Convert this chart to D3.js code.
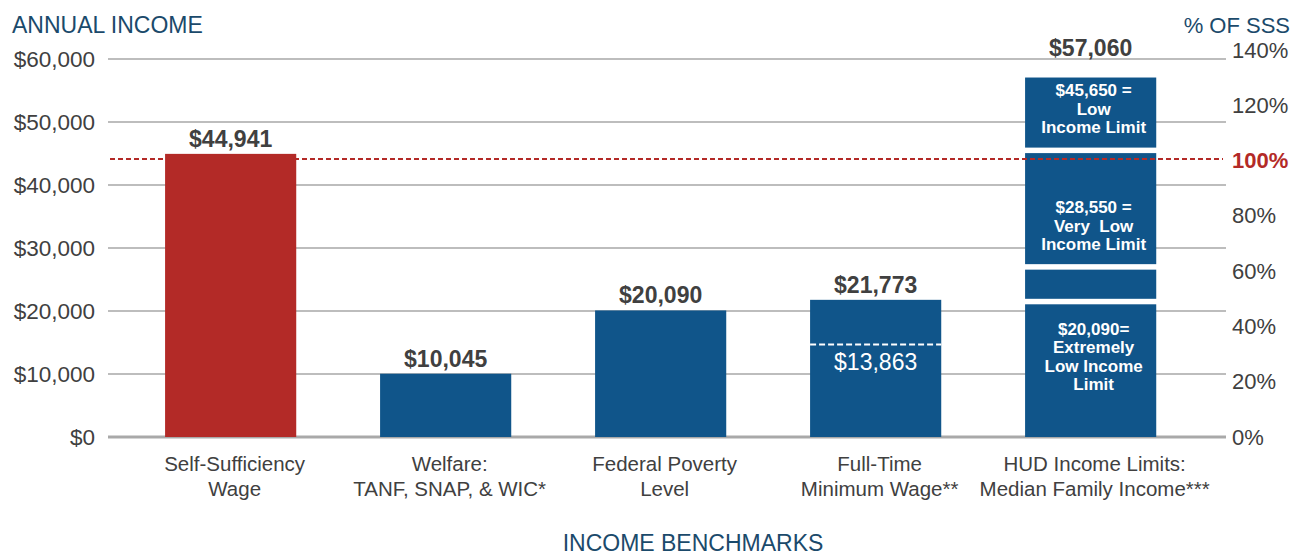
<!DOCTYPE html>
<html>
<head>
<meta charset="utf-8">
<script src="https://cdn.jsdelivr.net/npm/d3@7"></script>
<style>
  body { margin: 0; background: #fff; }
  svg { display: block; font-family: "Liberation Sans", Arial, sans-serif; }
</style>
</head>
<body>
<div id="chart-container"></div>
<script>
// Data

const categories = [
  ["Self-Sufficiency", "Wage"],
  ["Welfare:", "TANF, SNAP, & WIC*"],
  ["Federal Poverty", "Level"],
  ["Full-Time", "Minimum Wage**"],
  ["HUD Income Limits:", "Median Family Income***"]
];
const barValues = [44941, 10045, 20090, 21773, 57060];

// full-time minimum wage after taxes (dashed line inside the bar)
const minWageNet = 14700;
const minWageNetLabel = "$13,863";

// HUD stacked pieces (tops of each piece)
const hudTops = [21500, 27000, 45500, 57060];
const hudLabels = [
  ["$20,090=", "Extremely", "Low Income", "Limit"],
  [],
  ["$28,550 =", "Very  Low", "Income Limit"],
  ["$45,650 =", "Low", "Income Limit"]
];

const yTicks = [0, 10000, 20000, 30000, 40000, 50000, 60000];
const pctTicks = [0, 0.2, 0.4, 0.6, 0.8, 1.0, 1.2, 1.4];
const sssPct = 1.0;

// Chart dimensions

const W = 1299, H = 557;
const plot = { left: 108, right: 1226, top: 59, bottom: 437 };

const blue = "#10558a";
const red = "#b32a27";
const navy = "#1b4a6b";
const grey = "#404040";

const svg = d3.select("#chart-container")
  .append("svg")
  .attr("width", W)
  .attr("height", H);

// Scales

const xScale = d3.scaleBand()
  .domain(d3.range(categories.length))
  .range([plot.left, plot.right])
  .paddingInner(0.39)
  .paddingOuter(0.295)
  .align(0.45);

const yScale = d3.scaleLinear().domain([0, 60000]).range([plot.bottom, plot.top]);
const pctScale = d3.scaleLinear().domain([0, 1.4]).range([plot.bottom, 50]);

const money = d3.format("$,");

// Gridlines

svg.append("g")
  .selectAll("line")
  .data(yTicks)
  .join("line")
  .attr("x1", plot.left)
  .attr("x2", plot.right)
  .attr("y1", (d) => yScale(d))
  .attr("y2", (d) => yScale(d))
  .attr("stroke", (d) => d === 0 ? "#a9a9a9" : "#bdbdbd")
  .attr("stroke-width", (d) => d === 0 ? 3 : 2);

// Left axis

svg.append("g")
  .attr("transform", `translate(${plot.left - 13},0)`)
  .call(d3.axisLeft(yScale).tickValues(yTicks).tickSize(0).tickPadding(0).tickFormat(money))
  .call((g) => g.select(".domain").remove())
  .selectAll("text")
    .style("font-family", "'Liberation Sans', Arial, sans-serif")
    .style("font-size", "22.5px")
    .attr("fill", grey);

// Right axis

svg.append("g")
  .attr("transform", `translate(${plot.right + 6},0)`)
  .call(d3.axisRight(pctScale).tickValues(pctTicks).tickSize(0).tickPadding(0).tickFormat(d3.format(".0%")))
  .call((g) => g.select(".domain").remove())
  .selectAll("text")
    .style("font-family", "'Liberation Sans', Arial, sans-serif")
    .style("font-size", "22px")
    .style("font-weight", (d) => d === sssPct ? "bold" : "normal")
    .attr("fill", (d) => d === sssPct ? red : grey);

// Bars (all but the HUD stack)

const single = barValues.slice(0, 4);

svg.append("g")
  .selectAll("rect")
  .data(single)
  .join("rect")
  .attr("x", (d, i) => xScale(i))
  .attr("width", xScale.bandwidth())
  .attr("y", (d) => yScale(d))
  .attr("height", (d) => yScale(0) - yScale(d))
  .attr("fill", (d, i) => i === 0 ? red : blue);

// HUD stack with white gaps between pieces

const gap = 5.5;
const hudIndex = 4;
const hudPieces = hudTops.map((top, i) => ({
  bottom: i === 0 ? 0 : hudTops[i - 1],
  top: top,
  lines: hudLabels[i]
}));

svg.append("g")
  .selectAll("rect")
  .data(hudPieces)
  .join("rect")
  .attr("x", xScale(hudIndex))
  .attr("width", xScale.bandwidth())
  .attr("y", (d, i) => yScale(d.top) + (i === hudPieces.length - 1 ? 0 : gap / 2))
  .attr("height", (d, i) => {
    const y0 = yScale(d.bottom) - (i === 0 ? 0 : gap / 2);
    const y1 = yScale(d.top) + (i === hudPieces.length - 1 ? 0 : gap / 2);
    return y0 - y1;
  })
  .attr("fill", blue);

// labels inside the HUD pieces (small nudges to sit like the original)
const hudShift = [-13, 0, 17, -5];
const lineH = 18.5;

hudPieces.forEach((p, i) => {
  if (!p.lines.length) return;
  const mid = (yScale(p.bottom) + yScale(p.top)) / 2 + hudShift[i];
  const first = mid - (p.lines.length - 1) * lineH / 2 + 6;
  svg.append("text")
    .attr("text-anchor", "middle")
    .style("font-size", "17px")
    .style("font-weight", "bold")
    .attr("fill", "#fff")
    .selectAll("tspan")
    .data(p.lines)
    .join("tspan")
    .attr("x", xScale(hudIndex) + xScale.bandwidth() / 2 + 3)
    .attr("y", (d, j) => first + j * lineH)
    .attr("xml:space", "preserve")
    .style("white-space", "pre")
    .text((d) => d);
});

// Dashed net-income line inside the minimum wage bar

svg.append("line")
  .attr("x1", xScale(3))
  .attr("x2", xScale(3) + xScale.bandwidth())
  .attr("y1", yScale(minWageNet))
  .attr("y2", yScale(minWageNet))
  .attr("stroke", "#fff")
  .attr("stroke-width", 2)
  .attr("stroke-dasharray", "6,3");

svg.append("text")
  .attr("x", xScale(3) + xScale.bandwidth() / 2)
  .attr("y", yScale(minWageNet) + 26)
  .attr("text-anchor", "middle")
  .style("font-size", "23px")
  .attr("fill", "#fff")
  .text(minWageNetLabel);

// 100% of SSS line

svg.append("line")
  .attr("x1", plot.left + 2)
  .attr("x2", plot.right - 3)
  .attr("y1", pctScale(sssPct) - 1.5)
  .attr("y2", pctScale(sssPct) - 1.5)
  .attr("stroke", red)
  .attr("stroke-width", 2)
  .attr("stroke-dasharray", "5,3");

// Value labels above bars

svg.append("g")
  .selectAll("text")
  .data(barValues)
  .join("text")
  .attr("x", (d, i) => xScale(i) + xScale.bandwidth() / 2)
  .attr("y", (d, i) => i === hudIndex ? yScale(60000) - 3 : yScale(d) - 7)
  .attr("text-anchor", "middle")
  .style("font-size", "23px")
  .style("font-weight", "bold")
  .attr("fill", grey)
  .text((d) => money(d));

// Category labels

svg.append("g")
  .selectAll("text")
  .data(categories)
  .join("text")
  .attr("text-anchor", "middle")
  .style("font-size", "20.5px")
  .attr("fill", grey)
  .each(function (d, i) {
    d3.select(this).selectAll("tspan")
      .data(d)
      .join("tspan")
      .attr("x", xScale(i) + xScale.bandwidth() / 2 + 4)
      .attr("y", (t, j) => 471 + j * 25)
      .text((t) => t);
  });

// Titles

svg.append("text")
  .attr("x", 12)
  .attr("y", 33)
  .style("font-size", "23px")
  .attr("fill", navy)
  .text("ANNUAL INCOME");

svg.append("text")
  .attr("x", 1290)
  .attr("y", 33)
  .attr("text-anchor", "end")
  .style("font-size", "22px")
  .attr("fill", navy)
  .text("% OF SSS");

svg.append("text")
  .attr("x", (plot.left + plot.right) / 2 + 26)
  .attr("y", 551)
  .attr("text-anchor", "middle")
  .style("font-size", "23px")
  .attr("fill", navy)
  .text("INCOME BENCHMARKS");
</script>
</body>
</html>
